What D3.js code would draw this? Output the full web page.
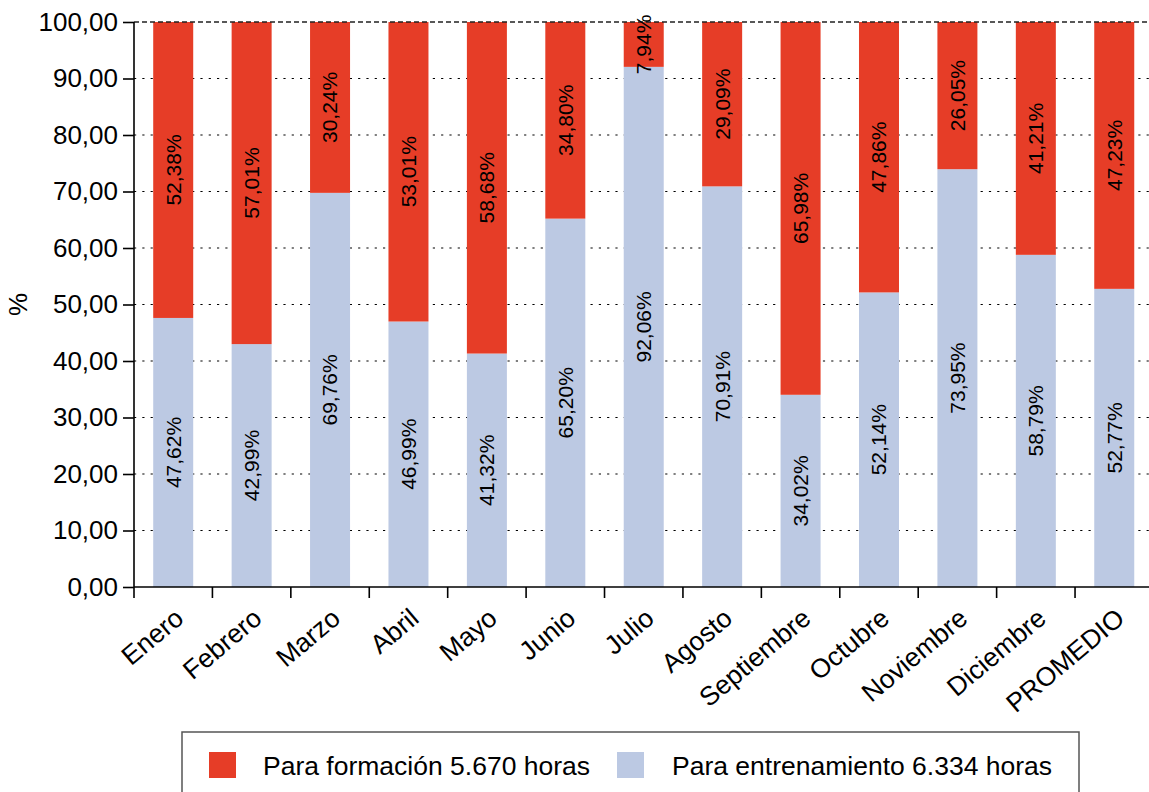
<!DOCTYPE html>
<html>
<head>
<meta charset="utf-8">
<script src="https://cdn.jsdelivr.net/npm/d3@7"></script>
<style>
  html, body { margin: 0; padding: 0; background: #fff; }
  svg { display: block; font-family: "Liberation Sans", Arial, Helvetica, sans-serif; }
</style>
</head>
<body>
<svg id="chart" width="1149" height="792"></svg>
<script>
const categories = ["Enero", "Febrero", "Marzo", "Abril", "Mayo", "Junio", "Julio", "Agosto", "Septiembre", "Octubre", "Noviembre", "Diciembre", "PROMEDIO"];
const entrenamiento = [47.62, 42.99, 69.76, 46.99, 41.32, 65.20, 92.06, 70.91, 34.02, 52.14, 73.95, 58.79, 52.77];
const formacion = [52.38, 57.01, 30.24, 53.01, 58.68, 34.80, 7.94, 29.09, 65.98, 47.86, 26.05, 41.21, 47.23];
const yTicks = [0, 10, 20, 30, 40, 50, 60, 70, 80, 90, 100];
const seriesNames = ["Para formación 5.670 horas", "Para entrenamiento 6.334 horas"];
const colors = { formacion: "#E63D27", entrenamiento: "#BCC9E3" };

(function () {
const svg = d3.select("#chart");
const mLeft = 134, mTop = 22, mBottom = 587, bandW = 78.42;
const mRight = mLeft + bandW * categories.length;

const x = d3.scaleBand().domain(categories).range([mLeft, mRight]).padding(0);
const y = d3.scaleLinear().domain([0, 100]).range([mBottom, mTop]);
const barW = 40;
const fmt = v => v.toFixed(2).replace(".", ",");

// grid lines
svg.append("g").selectAll("line").data(yTicks.filter(t => t > 0 && t < 100)).join("line")
  .attr("x1", mLeft).attr("x2", 1149)
  .attr("y1", d => y(d)).attr("y2", d => y(d))
  .attr("stroke", "#000").attr("stroke-width", 1.2)
  .attr("stroke-dasharray", "2.2,6.1");

// bars
const data = categories.map((c, i) => ({ c, e: entrenamiento[i], f: formacion[i] }));
const g = svg.append("g");
g.selectAll("rect.e").data(data).join("rect").attr("class", "e")
  .attr("x", d => x(d.c) + x.bandwidth() / 2 - barW / 2)
  .attr("width", barW)
  .attr("y", d => y(d.e))
  .attr("height", d => y(0) - y(d.e))
  .attr("fill", colors.entrenamiento);
g.selectAll("rect.f").data(data).join("rect").attr("class", "f")
  .attr("x", d => x(d.c) + x.bandwidth() / 2 - barW / 2)
  .attr("width", barW)
  .attr("y", d => y(d.e + d.f))
  .attr("height", d => y(d.e) - y(d.e + d.f))
  .attr("fill", colors.formacion);

// top line
svg.append("line")
  .attr("x1", mLeft).attr("x2", 1149)
  .attr("y1", y(100)).attr("y2", y(100))
  .attr("stroke", "#222").attr("stroke-width", 1.6)
  .attr("stroke-dasharray", "5,3");

// value labels
const lab = svg.append("g").attr("font-size", 21).attr("fill", "#000");
data.forEach(d => {
  const cx = x(d.c) + x.bandwidth() / 2;
  lab.append("text")
    .attr("transform", `translate(${cx},${y(d.e / 2)}) rotate(-90)`)
    .attr("text-anchor", "middle").attr("dy", "0.35em")
    .text(fmt(d.e) + "%");
  lab.append("text")
    .attr("transform", `translate(${cx},${y(d.e + d.f / 2)}) rotate(-90)`)
    .attr("text-anchor", "middle").attr("dy", "0.35em")
    .text(fmt(d.f) + "%");
});

// y axis
const yAxis = svg.append("g").attr("transform", `translate(${mLeft},0)`)
  .call(d3.axisLeft(y).tickValues(yTicks).tickSize(11).tickPadding(5).tickFormat(fmt));
yAxis.select(".domain").attr("stroke", "#000").attr("stroke-width", 1.6).attr("d", `M0,${mTop}V${mBottom}`);
yAxis.selectAll(".tick line").attr("stroke", "#000").attr("stroke-width", 1.6);
yAxis.selectAll(".tick text").attr("font-size", 26).attr("fill", "#000")
  .attr("font-family", "'Liberation Sans', Arial, sans-serif");

// x axis
const xTickScale = d3.scaleLinear().domain([0, categories.length]).range([mLeft, mRight]);
const xAxisG = svg.append("g").attr("transform", `translate(0,${mBottom})`);
xAxisG.append("line").attr("x1", mLeft).attr("x2", 1149).attr("y1", 0).attr("y2", 0)
  .attr("stroke", "#000").attr("stroke-width", 1.6);
xAxisG.selectAll("line.tk").data(d3.range(categories.length)).join("line").attr("class", "tk")
  .attr("x1", i => xTickScale(i)).attr("x2", i => xTickScale(i))
  .attr("y1", 0).attr("y2", 11)
  .attr("stroke", "#000").attr("stroke-width", 1.6);
svg.append("g").selectAll("text").data(categories).join("text")
  .attr("transform", d => `translate(${x(d) + x.bandwidth() / 2 + 12},${mBottom + 34}) rotate(-40)`)
  .attr("text-anchor", "end")
  .attr("font-size", 26.5).attr("fill", "#000")
  .text(d => d);

// y label
svg.append("text")
  .attr("transform", `translate(27,${(mTop + mBottom) / 2}) rotate(-90)`)
  .attr("text-anchor", "middle")
  .attr("font-size", 26).attr("fill", "#000")
  .text("%");

// legend
const leg = svg.append("g");
leg.append("rect").attr("x", 182).attr("y", 732).attr("width", 897).attr("height", 80)
  .attr("fill", "none").attr("stroke", "#555").attr("stroke-width", 1.5);
const legItems = [
  { name: seriesNames[0], color: colors.formacion, sx: 209, tx: 263 },
  { name: seriesNames[1], color: colors.entrenamiento, sx: 617, tx: 672 }
];
legItems.forEach(it => {
  leg.append("rect").attr("x", it.sx).attr("y", 752).attr("width", 27).attr("height", 26).attr("fill", it.color);
  leg.append("text").attr("x", it.tx).attr("y", 775).attr("font-size", 26.5).attr("fill", "#000").text(it.name);
});
})();
</script>
</body>
</html>
